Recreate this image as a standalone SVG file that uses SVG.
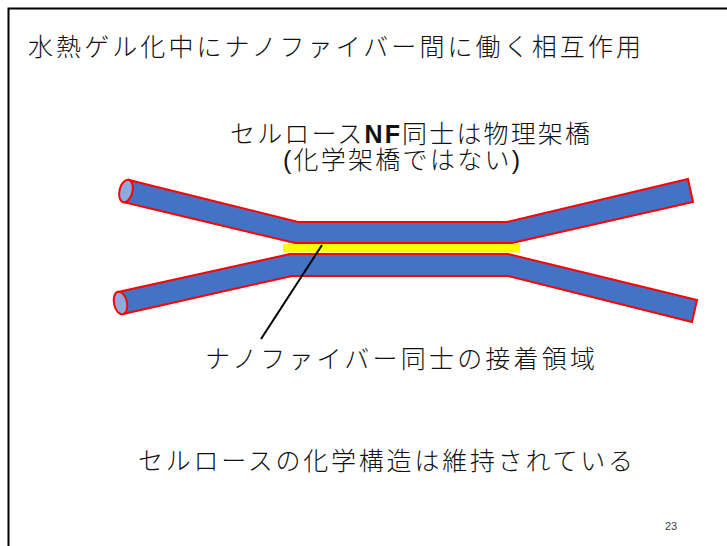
<svg xmlns="http://www.w3.org/2000/svg" width="727" height="546" viewBox="0 0 727 546">
  <style>
    .jp { font-family: "Noto Sans CJK JP", "Noto Sans", sans-serif; font-size: 25px; font-weight: 300; fill: #111; }
    .latin { font-family: "Liberation Sans", sans-serif; }
    .fiber { fill: #4472C4; stroke: #FF0000; stroke-width: 2; stroke-linejoin: miter; }
    .cap { fill: #8FAADC; stroke: #FF0000; stroke-width: 2; }
    .frame { fill: none; stroke: #000; stroke-width: 2; }
  </style>

  <rect width="727" height="546" fill="#fff"/>

  <!-- slide frame (top and left edges) -->
  <path class="frame" d="M8.5,546 V8.5 H727"/>

  <!-- title -->
  <text class="jp" x="28" y="56" font-size="26" textLength="613" lengthAdjust="spacing">水熱ゲル化中にナノファイバー間に働く相互作用</text>

  <!-- heading above the fibers -->
  <text class="jp" x="230" y="143" textLength="360" lengthAdjust="spacing">セルロース<tspan class="latin" font-weight="bold">NF</tspan>同士は物理架橋</text>
  <text class="jp" x="283" y="169" textLength="237" lengthAdjust="spacing"><tspan class="latin">(</tspan>化学架橋ではない<tspan class="latin">)</tspan></text>

  <!-- upper nanofiber -->
  <g id="fiber-upper">
    <polygon class="fiber" points="129,180 298,222 507,222 688,179 693,202 512,243 295,243 123,202"/>
    <ellipse class="cap" cx="126" cy="191" rx="6.5" ry="11.5" transform="rotate(14 126 191)"/>
  </g>

  <!-- lower nanofiber -->
  <g id="fiber-lower">
    <polygon class="fiber" points="118,292 290,254 508,254 697,300 692,322 508,276 292,276 123,314"/>
    <ellipse class="cap" cx="120.5" cy="303" rx="6.5" ry="11.5" transform="rotate(-12 120.5 303)"/>
  </g>

  <!-- bonded contact zone between the fibers -->
  <g id="contact-zone">
    <rect x="283" y="244" width="237" height="8.5" fill="#FFFF00"/>
  </g>

  <!-- leader line to the label -->
  <g id="connectors">
    <line x1="322" y1="245" x2="261" y2="339" stroke="#000" stroke-width="2"/>
  </g>

  <g id="label-contact">
    <text class="jp" x="205" y="368" textLength="390" lengthAdjust="spacing">ナノファイバー同士の接着領域</text>
  </g>

  <g id="label-structure">
    <text class="jp" x="138" y="470" textLength="495" lengthAdjust="spacing">セルロースの化学構造は維持されている</text>
  </g>

  <!-- page number -->
  <text x="665" y="530" class="latin" font-size="11" fill="#404040">23</text>
</svg>
